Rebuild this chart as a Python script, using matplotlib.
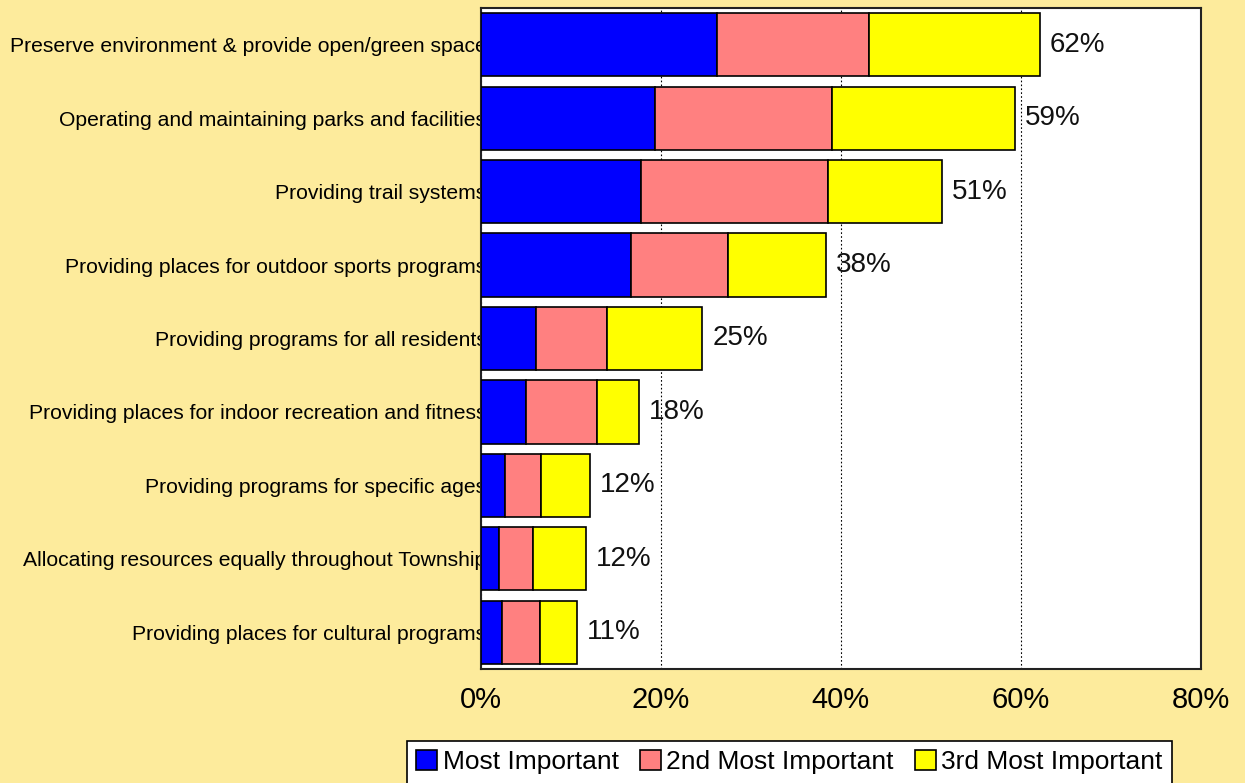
import matplotlib
matplotlib.use("Agg")
import matplotlib.pyplot as plt
import numpy as np

categories = [
    "Preserve environment & provide open/green space",
    "Operating and maintaining parks and facilities",
    "Providing trail systems",
    "Providing places for outdoor sports programs",
    "Providing programs for all residents",
    "Providing places for indoor recreation and fitness",
    "Providing programs for specific ages",
    "Allocating resources equally throughout Township",
    "Providing places for cultural programs",
]
most = [26.2, 19.3, 17.8, 16.7, 6.1, 5.0, 2.7, 2.0, 2.3]
second = [16.9, 19.7, 20.8, 10.7, 7.9, 7.9, 4.0, 3.8, 4.3]
third = [19.0, 20.3, 12.6, 10.9, 10.6, 4.7, 5.4, 5.9, 4.1]
totals = [62, 59, 51, 38, 25, 18, 12, 12, 11]
series_names = ["Most Important", "2nd Most Important", "3rd Most Important"]
colors = ["#0000FF", "#FF8080", "#FFFF00"]
xticks = [0, 20, 40, 60, 80]

plt.rcParams['font.family'] = ['Liberation Sans', 'DejaVu Sans']
bg = "#FDEB9C"
fig = plt.figure(figsize=(12.45, 7.83), dpi=100, facecolor=bg)
ax = fig.add_axes([0.3863, 0.1456, 0.5783, 0.8442])
ax.set_facecolor("white")

y = np.arange(len(categories))
m = np.array(most); s = np.array(second); t = np.array(third)
h = 0.86
ax.barh(y, m, height=h, color=colors[0], edgecolor="black", linewidth=1.2, label=series_names[0], zorder=3)
ax.barh(y, s, left=m, height=h, color=colors[1], edgecolor="black", linewidth=1.2, label=series_names[1], zorder=3)
ax.barh(y, t, left=m + s, height=h, color=colors[2], edgecolor="black", linewidth=1.2, label=series_names[2], zorder=3)

for yi, tot, end in zip(y, totals, m + s + t):
    ax.text(end + 1.1, yi, f"{tot}%", va="center", ha="left", fontsize=20, color="#111111", zorder=4)

ax.set_xlim(0, 80)
ax.set_ylim(len(categories) - 0.5, -0.5)
ax.set_xticks(xticks)
ax.set_xticklabels([f"{v}%" for v in xticks], fontsize=21)
ax.set_yticks(y)
ax.set_yticklabels(categories, fontsize=15.2)
ax.tick_params(axis='y', length=0, pad=-4)
ax.tick_params(axis='x', length=0, pad=12)
ax.xaxis.grid(True, linestyle=(0, (1.5, 2)), color="black", linewidth=0.8, zorder=0)
for sp in ax.spines.values():
    sp.set_linewidth(1.5)
    sp.set_color("#222222")

leg = fig.legend(loc="upper left", bbox_to_anchor=(407 / 1245, 1 - 741 / 783), ncol=3,
                 fontsize=19, frameon=True, fancybox=False, edgecolor="black",
                 facecolor="white", framealpha=1,
                 handlelength=0.8, handleheight=0.8, handletextpad=0.2, columnspacing=0.8,
                 borderpad=0.35, borderaxespad=0)
leg.get_frame().set_linewidth(1.2)

fig.savefig("out.png", dpi=100, facecolor=bg)
